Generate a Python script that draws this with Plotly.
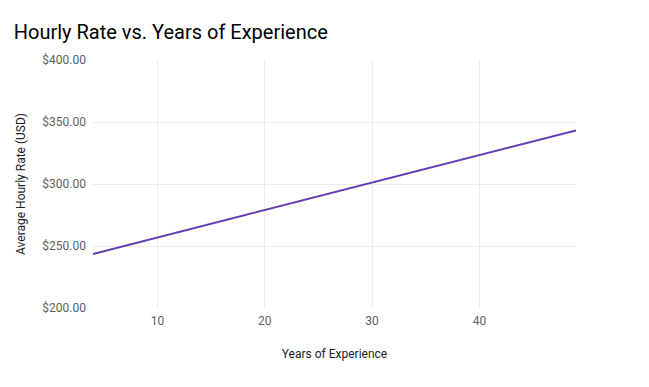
import plotly.graph_objects as go

years = [4, 49]
rate = [243.6, 343.2]
x_ticks = [10, 20, 30, 40]
y_ticks = [200, 250, 300, 350, 400]
y_labels = ["$200.00", "$250.00", "$300.00", "$350.00", "$400.00"]

fig = go.Figure()
fig.add_trace(go.Scatter(x=years, y=rate, mode="lines",
                         line=dict(color="#673ab7", width=2), showlegend=False))

fig.update_layout(
    width=641, height=379,
    margin=dict(l=85, r=73, t=52, b=79),
    paper_bgcolor="white", plot_bgcolor="white",
    font=dict(family="Roboto", size=12, color="#5f5f5f"),
    title=dict(text="Hourly Rate vs. Years of Experience", x=0.009, xanchor="left",
               y=0.937, yanchor="middle",
               font=dict(family="Roboto", size=20, color="#000000")),
    xaxis=dict(range=[4, 49], tickvals=x_ticks, showgrid=True, gridcolor="#ebebeb",
               zeroline=False, showline=False, ticks="", ticklabelstandoff=4,
               title=dict(text="Years of Experience", font=dict(size=12, color="#222222"),
                          standoff=22)),
    yaxis=dict(range=[200, 400], tickvals=y_ticks, ticktext=y_labels, showgrid=True,
               gridcolor="#ebebeb", zeroline=False, showline=False, ticks="",
               ticklabelstandoff=6,
               title=dict(text="Average Hourly Rate (USD)", font=dict(size=12, color="#222222"),
                          standoff=14)),
)
fig.write_html("out.html")
